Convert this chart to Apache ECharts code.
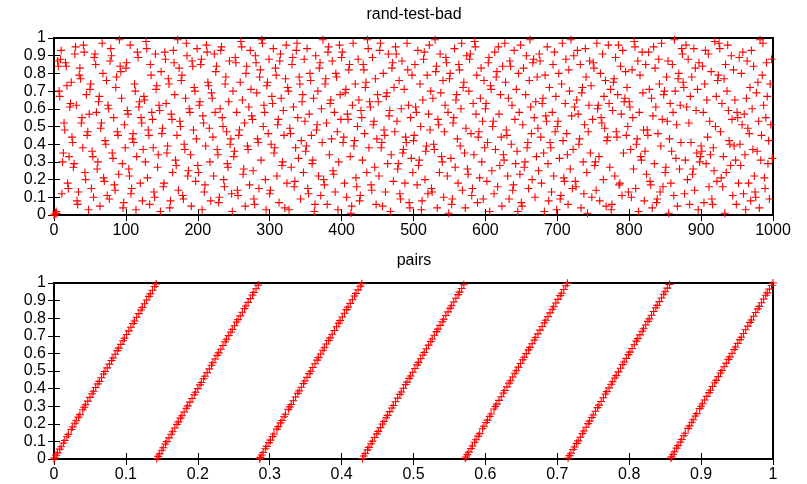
<!DOCTYPE html>
<html>
<head>
<meta charset="utf-8">
<title>rand-test-bad</title>
<script src="https://cdn.jsdelivr.net/npm/echarts@6/dist/echarts.min.js"></script>
<style>
  html, body { margin: 0; padding: 0; background: #fff; }
  #chart { width: 807px; height: 484px; }
</style>
</head>
<body>
<div id="chart"></div>
<script>
// rand-test-bad: each draw, in hundredths (index 0..999)
var randValues = [
  0,0,1,2,1,87,84,70,67,88,93,12,30,35,52,48,86,84,73,18,15,33,61,63,75,
  44,41,27,29,91,95,62,8,6,13,79,83,77,52,55,38,96,92,24,20,68,45,47,3,57,
  71,74,15,36,33,10,89,91,85,58,26,30,64,67,5,49,52,97,80,21,19,42,40,76,11,
  62,60,9,87,94,90,35,32,55,17,14,72,78,47,45,23,99,84,81,66,29,4,7,51,38,
  83,86,59,57,26,22,96,12,15,43,46,41,74,70,3,33,92,89,61,64,18,55,52,8,37,
  67,65,30,98,94,21,48,45,6,85,79,58,54,38,13,10,91,71,73,27,34,62,59,2,81,
  46,49,16,18,92,88,63,35,39,77,74,4,8,57,54,24,93,86,68,31,28,45,99,14,83,
  53,50,76,79,11,9,40,37,66,97,90,22,25,60,58,34,5,87,84,48,72,70,19,43,94,
  28,24,62,64,85,88,3,56,52,13,17,39,96,92,75,73,49,30,8,69,66,44,22,91,58,
  81,84,37,34,7,10,60,93,95,55,50,20,16,74,78,47,29,27,64,87,40,43,12,2,70,
  33,36,89,86,58,14,11,45,48,75,98,95,65,23,26,52,5,80,84,39,37,61,17,93,71,
  56,54,25,9,6,90,86,69,43,41,15,78,82,31,99,97,50,62,58,20,3,73,75,46,88,
  12,14,40,67,63,94,35,38,83,79,22,51,54,7,87,91,66,28,30,59,45,4,77,96,18,
  72,70,3,49,46,27,85,89,61,16,19,38,93,97,55,32,78,74,9,42,64,68,24,88,53,
  36,39,94,15,12,57,80,76,45,29,31,66,2,6,90,48,51,70,22,83,86,11,60,41,99,
  20,17,74,77,52,6,92,95,34,63,65,43,87,25,23,58,13,80,78,47,3,30,96,68,54,
  89,92,41,44,18,69,71,10,57,54,82,85,33,1,5,62,97,39,42,74,21,16,50,88,65,
  8,11,59,55,31,85,82,46,72,75,24,99,94,38,64,61,17,14,89,51,53,27,77,6,43,
  68,64,22,93,97,38,41,5,80,48,45,13,67,69,29,91,56,59,2,34,83,86,19,72,47,
  95,91,53,26,29,76,12,9,60,87,35,37,71,18,44,41,97,82,62,7,4,55,32,79,24,
  42,45,85,61,58,17,93,28,31,74,50,3,8,65,88,92,20,36,39,79,12,57,96,48,70,
  15,13,66,40,37,99,81,84,4,54,51,24,91,69,33,30,76,10,47,62,89,86,22,58,1,
  77,80,32,6,9,52,55,94,27,65,68,43,18,85,82,39,60,97,14,72,75,35,4,49,90,
  26,23,70,88,91,46,11,15,63,34,98,95,57,79,7,44,47,21,66,83,30,53,9,76,38,
  60,63,19,41,86,89,2,73,71,25,50,53,12,92,37,78,81,16,95,57,28,68,44,5,84,
  34,31,97,75,48,45,22,66,9,87,84,40,62,14,17,93,54,29,71,36,2,80,58,23,96,
  7,5,51,83,27,30,68,90,38,41,15,76,99,61,46,20,86,88,55,10,64,33,78,49,25,
  91,87,44,18,63,66,35,2,79,56,53,95,29,8,72,41,38,13,58,85,22,92,47,67,3,
  50,53,80,32,9,11,74,97,42,21,19,63,88,46,34,6,82,70,26,99,56,15,37,90,61,
  19,16,65,93,57,40,43,85,4,69,72,30,12,51,94,78,24,1,47,62,87,35,73,10,54,
  86,83,28,30,14,97,60,62,33,8,80,55,52,91,20,67,49,76,5,42,44,96,63,27,71,
  3,6,59,75,77,22,89,47,44,68,96,17,18,84,57,11,93,35,64,66,81,45,72,50,13,
  64,61,37,10,82,55,26,98,95,15,40,43,87,2,58,79,33,31,92,69,48,8,36,85,23,
  48,45,92,71,19,17,66,4,56,95,29,83,61,7,9,46,88,74,13,39,97,54,16,68,70,
  24,27,78,53,87,1,43,63,18,36,85,58,11,99,70,32,51,5,77,80,26,62,41,94,91,
  75,72,12,31,96,61,20,88,52,6,67,41,78,23,26,94,14,83,59,35,71,3,86,30,33,
  39,36,84,58,7,74,93,29,65,44,91,16,53,34,81,9,6,38,25,98,50,67,19,76,79,
  97,94,47,21,63,16,33,77,1,85,24,70,96,59,42,40,28,90,54,11,82,39,65,31,6,
  58,55,18,89,40,28,80,51,92,12,57,34,3,66,87,49,18,46,72,8,93,60,37,84,22,
  13,10,69,36,75,53,4,99,31,45,79,97,62,21,15,55,86,67,29,42,9,74,51,88,32
];

// pairs: (x, next x), in thousandths, read along the seven stripes
var pairX = [
  0,1,3,5,8,10,13,15,18,20,24,26,29,31,34,36,40,42,44,47,50,53,55,58,61,63,66,69,71,74,77,80,82,85,88,90,93,96,98,101,104,107,110,112,115,118,121,123,126,129,132,134,137,140,142,
  143,145,147,150,152,155,157,160,163,165,168,171,173,176,178,181,184,186,189,192,195,197,200,203,205,208,210,213,216,219,221,224,227,229,232,235,238,240,243,246,248,251,254,256,259,262,265,267,270,273,276,278,281,284,
  286,287,289,291,294,296,299,301,304,306,310,312,315,317,320,322,326,328,330,333,336,339,341,344,347,349,352,355,357,360,363,366,368,371,374,376,379,382,384,387,390,393,396,398,401,404,407,409,412,415,418,420,423,426,428,
  429,431,433,436,438,441,443,446,449,451,454,457,459,462,464,467,470,472,475,478,481,483,486,489,491,494,496,499,502,505,507,510,513,515,518,521,524,526,529,532,534,537,540,542,545,548,551,553,556,559,562,564,567,570,
  572,573,575,577,580,582,585,587,590,592,596,598,601,603,606,608,612,614,616,619,622,625,627,630,633,635,638,641,643,646,649,652,654,657,660,662,665,668,670,673,676,679,682,684,687,690,693,695,698,701,704,706,709,712,714,
  715,717,719,722,724,727,729,732,735,737,740,743,745,748,750,753,756,758,761,764,767,769,772,775,777,780,782,785,788,791,793,796,799,801,804,807,810,812,815,818,820,823,826,828,831,834,837,839,842,845,848,850,853,856,
  858,859,861,863,866,868,871,873,876,878,882,884,887,889,892,894,898,900,902,905,908,911,913,916,919,921,924,927,929,932,935,938,940,943,946,948,951,954,956,959,962,965,968,970,973,976,979,981,984,987,990,992,995,998,1000
];
var pairY = [
  0,7,21,35,56,70,91,105,126,140,168,182,203,217,238,252,280,294,308,329,350,371,385,406,427,441,462,483,497,518,539,560,574,595,616,630,651,672,686,707,728,749,770,784,805,826,847,861,882,903,924,938,959,980,994,
  1,15,29,50,64,85,99,120,141,155,176,197,211,232,246,267,288,302,323,344,365,379,400,421,435,456,470,491,512,533,547,568,589,603,624,645,666,680,701,722,736,757,778,792,813,834,855,869,890,911,932,946,967,988,
  2,9,23,37,58,72,93,107,128,142,170,184,205,219,240,254,282,296,310,331,352,373,387,408,429,443,464,485,499,520,541,562,576,597,618,632,653,674,688,709,730,751,772,786,807,828,849,863,884,905,926,940,961,982,996,
  3,17,31,52,66,87,101,122,143,157,178,199,213,234,248,269,290,304,325,346,367,381,402,423,437,458,472,493,514,535,549,570,591,605,626,647,668,682,703,724,738,759,780,794,815,836,857,871,892,913,934,948,969,990,
  4,11,25,39,60,74,95,109,130,144,172,186,207,221,242,256,284,298,312,333,354,375,389,410,431,445,466,487,501,522,543,564,578,599,620,634,655,676,690,711,732,753,774,788,809,830,851,865,886,907,928,942,963,984,998,
  5,19,33,54,68,89,103,124,145,159,180,201,215,236,250,271,292,306,327,348,369,383,404,425,439,460,474,495,516,537,551,572,593,607,628,649,670,684,705,726,740,761,782,796,817,838,859,873,894,915,936,950,971,992,
  6,13,27,41,62,76,97,111,132,146,174,188,209,223,244,258,286,300,314,335,356,377,391,412,433,447,468,489,503,524,545,566,580,601,622,636,657,678,692,713,734,755,776,790,811,832,853,867,888,909,930,944,965,986,1000
];

// tick labels
var randXTicks = [0, 100, 200, 300, 400, 500, 600, 700, 800, 900, 1000];
var unitTicks = [0, 0.1, 0.2, 0.3, 0.4, 0.5, 0.6, 0.7, 0.8, 0.9, 1];

var FONT = 'Liberation Sans, Arial, sans-serif';
var PLUS = 'path://M3.45,0h1.1v3.45h3.45v1.1h-3.45v3.45h-1.1v-3.45h-3.45v-1.1h3.45z';

function axis(ticks, grid, pos, labels) {
  return {
    type: 'value',
    gridIndex: grid,
    position: pos,
    min: ticks[0],
    max: ticks[ticks.length - 1],
    interval: ticks[1] - ticks[0],
    axisLine: { show: false },
    axisTick: { show: true, inside: true, length: 6, lineStyle: { color: '#000', width: 1 } },
    axisLabel: {
      show: labels,
      color: '#000',
      fontSize: 16,
      fontFamily: FONT,
      margin: 8,
      formatter: function (v) { return String(v) }
    },
    splitLine: { show: false }
  }
}

function heading(text, y) {
  return {
    type: 'text',
    x: 414,
    y: y,
    style: {
      text: text,
      fill: '#000',
      font: '16px ' + FONT,
      textAlign: 'center',
      textVerticalAlign: 'middle'
    }
  }
}

var chartDom = echarts.init(document.getElementById('chart'))

chartDom.setOption({
  animation: false,
  backgroundColor: '#fff',
  graphic: [
    heading('rand-test-bad', 15),
    heading('pairs', 261)
  ],
  grid: [
    { left: 54, right: 34, top: 38, height: 177, show: true, borderColor: '#000', borderWidth: 2 },
    { left: 54, right: 34, top: 283, height: 176, show: true, borderColor: '#000', borderWidth: 2 }
  ],
  xAxis: [
    axis(randXTicks, 0, 'bottom', true),
    axis(randXTicks, 0, 'top', false),
    axis(unitTicks, 1, 'bottom', true),
    axis(unitTicks, 1, 'top', false)
  ],
  yAxis: [
    axis(unitTicks, 0, 'left', true),
    axis(unitTicks, 0, 'right', false),
    axis(unitTicks, 1, 'left', true),
    axis(unitTicks, 1, 'right', false)
  ],
  series: [
    {
      name: 'rand-test-bad',
      type: 'scatter',
      xAxisIndex: 0,
      yAxisIndex: 0,
      clip: false,
      symbol: PLUS,
      symbolSize: 8,
      itemStyle: { color: '#ff0000', opacity: 1 },
      data: randValues.map(function (v, i) { return [i, v / 100] })
    },
    {
      name: 'pairs',
      type: 'scatter',
      xAxisIndex: 2,
      yAxisIndex: 2,
      clip: false,
      symbol: PLUS,
      symbolSize: 8,
      itemStyle: { color: '#ff0000', opacity: 1 },
      data: pairX.map(function (x, i) { return [x / 1000, pairY[i] / 1000] })
    }
  ]
})
</script>
</body>
</html>
